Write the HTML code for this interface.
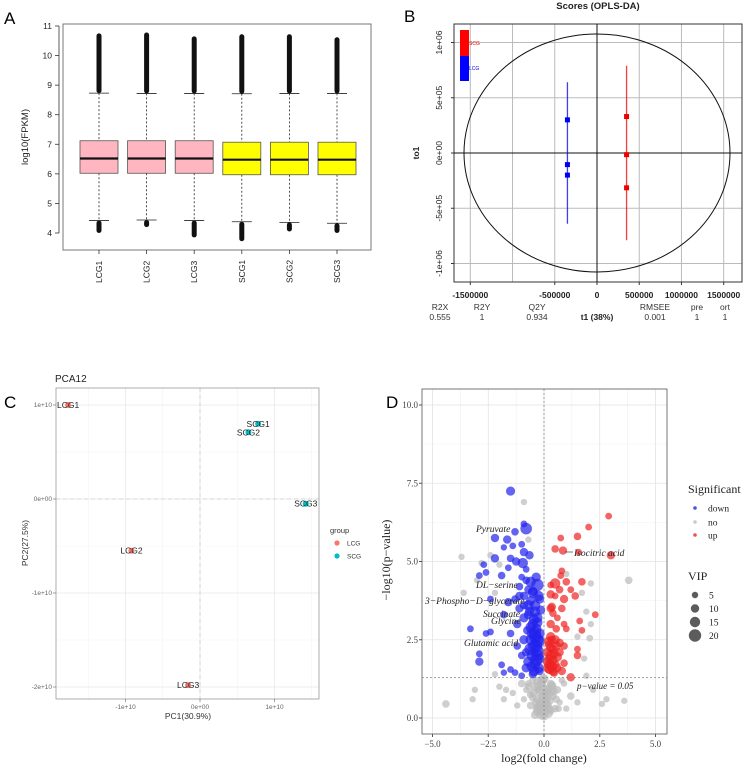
<!DOCTYPE html>
<html><head><meta charset="utf-8"><style>
html,body{margin:0;padding:0;background:#fff;}
svg{display:block;font-family:"Liberation Sans",sans-serif;}
</style></head><body>
<svg id="fig" width="750" height="767" viewBox="0 0 750 767">
<rect x="0" y="0" width="750" height="767" fill="#fff"/>
<text x="4" y="24" font-size="17">A</text>
<text x="404" y="22" font-size="17">B</text>
<text x="4" y="408" font-size="17">C</text>
<text x="386" y="408" font-size="17">D</text>
<g id="pa"></g>
<g id="pb"></g>
<g id="pc"></g>
<g id="pd"></g>
</svg>
<script>
// ---------- Panel A data ----------
const aSamples = ["LCG1","LCG2","LCG3","SCG1","SCG2","SCG3"];
const aQ1 = [6.02,6.02,6.02,5.97,5.97,5.97];
const aMed = [6.52,6.52,6.52,6.48,6.48,6.48];
const aQ3 = [7.12,7.12,7.12,7.07,7.07,7.07];
const aWhiskLo = [4.42,4.44,4.42,4.38,4.36,4.33];
const aWhiskHi = [8.73,8.72,8.72,8.71,8.72,8.72];
const aOutMax = [10.75,10.78,10.65,10.72,10.72,10.62];
const aOutMin = [4.0,4.2,3.85,3.72,4.05,4.0];
const aTicks = [4,5,6,7,8,9,10,11];
// ---------- Panel B data ----------
const bGroups = ["LCG","SCG"];
const bX = [-350000, 350000];
const bYL = [300000,-105000,-200000];
const bYS = [330000,-15000,-315000];
const bSpread = [640000, 790000];
const bXTicks = [-1500000,-500000,0,500000,1000000,1500000];
const bXGrid = [-1500000,-1000000,-500000,0,500000,1000000,1500000];
const bYTicks = [1000000,500000,0,-500000,-1000000];
const bYTickLabels = ["1e+06","5e+05","0e+00","-5e+05","-1e+06"];
// ---------- Panel C data ----------
const cNames = ["LCG1","LCG2","LCG3","SCG1","SCG2","SCG3"];
const cPC1 = [-1.77e10,-0.92e10,-0.16e10,0.78e10,0.65e10,1.42e10];
const cPC2 = [1.0e10,-0.55e10,-1.98e10,0.8e10,0.71e10,-0.05e10];
const cGroup = ["LCG","LCG","LCG","SCG","SCG","SCG"];
const cXTicks = [-1e10,0,1e10];
const cXTickLabels = ["-1e+10","0e+00","1e+10"];
const cYTicks = [1e10,0,-1e10,-2e10];
const cYTickLabels = ["1e+10","0e+00","-1e+10","-2e+10"];
// ---------- Panel D data ----------
const dDownFC = [-1.5,-0.9,-0.8,-1.3,-2.2,-1.65,-1.4,-1.0,-1.8,-0.9,-0.65,-2.2,-1.5,-1.25,-0.95,-2.7,-1.6,-0.8,-2.6,-1.9,-1.0,-2.9,-0.6,-0.3,-1.1,-0.7,-0.5,-0.9,-1.3,-1.6,-2.4,-0.2,-0.7,-1.1,-0.4,-1.8,-0.9,-0.3,-1.2,-0.6,-3.3,-0.4,-2.6,-1.5,-2.4,-0.9,-0.3,-1.2,-0.6,-0.3,-2.9,-2.9,-1.9,-1.5,-0.8,-0.4,-1.3,-1.0,-0.5,-1.8,-0.2,-0.7,-0.35,-0.5,-0.8,
 -0.45,-0.25,-0.55,-0.35,-0.2,-0.5,-0.3,-0.45,-0.25,-0.6,-0.4,-0.2,-0.35,-0.55,-0.3,-0.45,-0.7,-0.15,-0.4,-0.6,-0.25,-0.5,-0.35,-0.8,-1.0,-0.65,-0.9,-1.1,-0.75];
const dDownP = [7.25,6.2,6.05,5.95,5.75,5.7,5.5,5.55,5.45,5.3,5.2,5.1,5.1,5.0,4.95,4.9,4.8,4.75,4.65,4.55,4.5,4.55,4.35,4.25,4.2,4.1,4.0,3.9,3.8,3.7,3.8,3.8,3.6,3.5,3.4,3.3,3.2,3.2,3.0,2.9,2.85,2.7,2.7,2.7,2.75,2.5,2.5,2.3,2.2,2.0,2.05,1.8,1.7,1.55,1.6,1.7,1.45,1.35,1.4,1.45,1.5,1.8,2.3,3.0,4.4,
 1.5,1.6,1.65,1.85,1.9,2.0,2.15,2.3,2.45,2.5,2.6,2.7,2.85,2.7,3.05,3.15,3.3,3.45,3.6,3.75,3.9,4.05,4.5,2.1,2.0,3.4,3.6,3.9,2.8];
const dDownVIP = [12,6,18,8,10,10,6,6,5,10,10,10,8,10,15,6,6,6,6,8,6,6,15,20,8,10,15,10,8,10,6,12,15,10,15,8,12,15,10,15,6,20,6,8,6,12,20,8,20,20,6,10,6,6,12,15,6,6,10,5,10,15,20,15,8,
 15,15,15,20,15,20,20,20,20,15,20,15,15,15,15,15,12,12,15,12,15,12,12,10,8,12,10,10,10];
const dUpFC = [2.9,2.0,1.5,0.75,0.5,0.85,3.0,1.55,0.8,0.75,0.5,0.3,1.0,1.7,0.7,1.2,0.3,1.4,0.5,0.9,0.35,0.8,2.3,0.4,0.6,1.6,0.3,0.9,0.55,1.0,1.7,0.3,0.5,0.7,0.2,0.4,0.9,0.3,0.6,1.5,1.5,0.25,0.5,0.8,1.2,0.45,0.15,0.9,
 0.2,0.35,0.25,0.4,0.15,0.3,0.45,0.2,0.35,0.55,0.25,0.6,0.4,0.7,0.3];
const dUpP = [6.45,6.1,5.8,5.75,5.4,5.35,5.2,5.3,4.7,4.55,4.3,4.25,4.35,4.35,4.1,4.1,3.95,3.9,3.9,3.8,3.55,3.5,3.3,3.35,3.2,3.1,3.0,3.0,2.85,2.85,2.8,2.6,2.5,2.4,2.35,2.2,2.3,2.0,1.95,2.0,2.2,1.7,1.7,1.5,1.3,1.45,1.8,1.75,
 1.6,1.65,1.9,1.85,2.1,2.25,2.05,2.45,2.5,2.3,1.55,1.6,1.5,2.1,3.5];
const dUpVIP = [6,6,8,6,8,10,10,6,6,6,15,6,8,8,8,6,10,8,6,10,10,8,6,8,6,6,10,6,8,6,6,12,12,10,8,12,8,15,12,8,6,15,12,10,10,10,12,8,
 15,15,12,12,12,12,12,12,10,12,12,10,12,10,10];
const dNoFC = [-0.9,-0.7,-3.7,-2.8,-3.0,-3.6,-2.2,-2.0,-2.4,1.0,2.1,3.8,1.7,1.9,2.1,1.5,2.05,1.8,1.9,-2.2,-3.1,-3.2,-4.4,-1.7,-1.4,-1.0,-0.7,-0.5,-0.3,0,0.2,0.4,0.6,0.9,1.2,1.5,2.6,2.8,3.6,-0.1,0,-0.3,0.3,-0.6,0.5,-1.2,-0.9,0.1,-0.2,0.7,-2.0,-1.8,2.2,1.0,-0.4,0.1,-0.1,-0.5,0.3,-0.2,0.4,-0.8,0.8,0.0,-0.3,0.2,
 -0.15,0.05,-0.25,0.15,-0.35,0.25,-0.05,0.1,-0.2,0.2,-0.4,0.35,-0.1,0.0,-0.3,0.15,-0.5,0.45,-0.6,0.55,-0.15,0.05,-0.25,0.3,-0.7,0.65,-0.05,0.1];
const dNoP = [6.9,5.7,5.15,4.95,4.4,4.0,4.0,4.9,5.2,4.6,4.3,4.4,4.0,3.4,3.0,2.6,2.55,1.9,1.35,1.4,0.9,0.6,0.45,0.9,0.8,1.1,1.0,0.8,0.6,0.4,0.3,0.7,0.9,1.1,0.7,0.5,0.45,0.6,0.55,0.2,0.05,1.2,1.1,0.4,0.3,0.4,0.6,0.9,0.9,0.5,1.0,0.6,0.9,0.3,0.1,0.6,1.1,1.2,0.8,0.4,1.0,0.9,1.2,0.7,0.3,0.15,
 0.1,0.2,0.35,0.4,0.5,0.55,0.65,0.75,0.85,0.95,1.0,1.05,1.15,1.25,0.2,0.85,0.65,0.85,0.75,0.6,0.45,0.55,1.0,0.25,1.1,0.3,1.25,0.45];
const dNoVIP = [5,5,5,5,5,5,5,5,5,5,5,8,5,5,5,5,6,5,5,5,5,5,8,5,5,8,8,10,10,10,10,8,8,5,8,5,5,5,5,10,10,8,8,8,8,5,5,10,10,5,5,5,5,5,10,10,10,8,8,10,8,5,5,12,12,12,
 12,12,12,12,10,10,12,12,12,10,10,10,12,12,10,10,8,8,8,8,12,12,12,10,6,6,12,12];
const dLabels = ["Pyruvate","DL\u2212serine","3\u2212Phospho\u2212D\u2212glycerate","Succinate","Glycine","Glutamic acid","Isocitric acid"];
const dXTicks = [-5,-2.5,0,2.5,5];
const dXTickLabels = ["\u22125.0","\u22122.5","0.0","2.5","5.0"];
const dYTicks = [0,2.5,5,7.5,10];
const dYTickLabels = ["0.0","2.5","5.0","7.5","10.0"];
const dLegendVIP = [5,10,15,20];

const NS="http://www.w3.org/2000/svg";
function mk(parent,tag,attrs,text){const e=document.createElementNS(NS,tag);for(const k in attrs)e.setAttribute(k,attrs[k]);if(text!==undefined)e.textContent=text;parent.appendChild(e);return e;}

// ===== Panel A =====
(function(){
const g=document.getElementById('pa');
const L=63,R=371,T=24,B=250;
const ay=v=>26+(11-v)*(233-26)/7;
const ax=i=>99+i*47.6;
const box=mk(g,'rect',{x:L,y:T,width:R-L,height:B-T,fill:'none',stroke:'#777','stroke-width':1});


mk(g,'line',{x1:L-4,y1:ay(4),x2:L-4,y2:ay(11),stroke:'#333','stroke-width':0.8});
aTicks.forEach(t=>{
 mk(g,'line',{x1:L-8,y1:ay(t),x2:L-4,y2:ay(t),stroke:'#333','stroke-width':0.8});
 const tl=mk(g,'text',{x:L-11,y:ay(t)+3,'font-size':8.5,'text-anchor':'end',fill:'#222'},String(t));
 
 
});
const yl=mk(g,'text',{x:28,y:(T+B)/2,'font-size':9.5,'text-anchor':'middle',fill:'#222',transform:`rotate(-90 28 ${(T+B)/2})`},'log10(FPKM)');


aSamples.forEach((s,i)=>{
 const x=ax(i),w=38,col=i<3?'#ffb6c1':'#ffff00';
 mk(g,'line',{x1:x,y1:ay(aWhiskHi[i]),x2:x,y2:ay(aQ3[i]),stroke:'#222','stroke-dasharray':'2,2','stroke-width':0.8});
 mk(g,'line',{x1:x,y1:ay(aQ1[i]),x2:x,y2:ay(aWhiskLo[i]),stroke:'#222','stroke-dasharray':'2,2','stroke-width':0.8});
 mk(g,'line',{x1:x-10,y1:ay(aWhiskHi[i]),x2:x+10,y2:ay(aWhiskHi[i]),stroke:'#222','stroke-width':0.8});
 mk(g,'line',{x1:x-10,y1:ay(aWhiskLo[i]),x2:x+10,y2:ay(aWhiskLo[i]),stroke:'#222','stroke-width':0.8});
 const up=mk(g,'rect',{x:x-2.5,y:ay(aOutMax[i]),width:5,height:ay(aWhiskHi[i])-ay(aOutMax[i]),rx:2.5,fill:'#111'});
 
 
 const lo=mk(g,'rect',{x:x-2.5,y:ay(aWhiskLo[i]),width:5,height:ay(aOutMin[i])-ay(aWhiskLo[i]),rx:2.5,fill:'#111'});
 
 
 const b=mk(g,'rect',{x:x-w/2,y:ay(aQ3[i]),width:w,height:ay(aQ1[i])-ay(aQ3[i]),fill:col,stroke:'#555','stroke-width':0.8});
 
 
 mk(g,'line',{x1:x-w/2,y1:ay(aMed[i]),x2:x+w/2,y2:ay(aMed[i]),stroke:'#111','stroke-width':2.2});
 mk(g,'line',{x1:x,y1:B,x2:x,y2:B+4,stroke:'#333','stroke-width':0.8});
 const xl=mk(g,'text',{x:x+3,y:283,'font-size':8.5,fill:'#222',transform:`rotate(-90 ${x+3} 283)`},s);
 
 
});
})();

// ===== Panel B =====
(function(){
const g=document.getElementById('pb');
const L=454,R=742,T=24,B=282;
const bx=v=>597+v*(126.7/1500000);
const by=v=>153-v*(110.5/1000000);
const t=mk(g,'text',{x:598,y:9,'font-size':9.5,'font-weight':'bold','text-anchor':'middle',fill:'#222'},'Scores (OPLS-DA)');


bXGrid.forEach(v=>mk(g,'line',{x1:bx(v),y1:T,x2:bx(v),y2:B,stroke:'#bbb','stroke-width':1}));
bYTicks.forEach(v=>mk(g,'line',{x1:L,y1:by(v),x2:R,y2:by(v),stroke:'#bbb','stroke-width':1}));
mk(g,'rect',{x:L,y:T,width:R-L,height:B-T,fill:'none',stroke:'#333','stroke-width':1});
mk(g,'line',{x1:L,y1:by(0),x2:R,y2:by(0),stroke:'#111','stroke-width':1});
mk(g,'line',{x1:bx(0),y1:T,x2:bx(0),y2:B,stroke:'#111','stroke-width':1});
const el=mk(g,'ellipse',{cx:bx(0),cy:by(0),rx:133,ry:119,fill:'none',stroke:'#111','stroke-width':1});


bXTicks.forEach(v=>{
 mk(g,'line',{x1:bx(v),y1:B,x2:bx(v),y2:B+3,stroke:'#333'});
 const tl=mk(g,'text',{x:bx(v),y:298,'font-size':8.5,'font-weight':'bold','text-anchor':'middle',fill:'#222'},String(v));
 
 
});
bYTicks.forEach((v,i)=>{
 mk(g,'line',{x1:L-3,y1:by(v),x2:L,y2:by(v),stroke:'#333'});
 const tl=mk(g,'text',{x:442,y:by(v),'font-size':8.5,'text-anchor':'middle',fill:'#222',transform:`rotate(-90 442 ${by(v)})`},bYTickLabels[i]);
 
 
});
const yl=mk(g,'text',{x:419,y:153,'font-size':8.5,'font-weight':'bold','text-anchor':'middle',fill:'#222',transform:'rotate(-90 419 153)'},'to1');


const cols={LCG:'#0000ee',SCG:'#ee0000'};
bGroups.forEach((gname,gi)=>{
 const c=cols[gname];
 const ln=mk(g,'line',{x1:bx(bX[gi]),y1:by(bSpread[gi]),x2:bx(bX[gi]),y2:by(-bSpread[gi]),stroke:c,'stroke-width':1.3,opacity:0.75});
 
 
 const ys=gi===0?bYL:bYS;
 ys.forEach(v=>{
  const p=mk(g,'rect',{x:bx(bX[gi])-2.5,y:by(v)-2.5,width:5,height:5,fill:c});
  
  
 });
});
const lr=mk(g,'rect',{x:460,y:30,width:9,height:26,fill:'#ff0000'});


const lb=mk(g,'rect',{x:460,y:56,width:9,height:25,fill:'#0000ff'});


const t1=mk(g,'text',{x:469,y:45,'font-size':5,fill:'#e00'},'SCG');


const t2=mk(g,'text',{x:469,y:70,'font-size':5,fill:'#00e'},'LCG');


const h=[["R2X",440],["R2Y",482],["Q2Y",537],["RMSEE",655],["pre",697],["ort",725]];
const v=[["0.555",440],["1",482],["0.934",537],["0.001",655],["1",697],["1",725]];
h.forEach(([s,x])=>{const e=mk(g,'text',{x:x,y:310,'font-size':8.5,'text-anchor':'middle',fill:'#333'},s);});
v.forEach(([s,x])=>{const e=mk(g,'text',{x:x,y:320,'font-size':8.5,'text-anchor':'middle',fill:'#333'},s);});
const xt=mk(g,'text',{x:597,y:320,'font-size':8.5,'font-weight':'bold','text-anchor':'middle',fill:'#222'},'t1 (38%)');


})();

// ===== Panel C =====
(function(){
const g=document.getElementById('pc');
const L=56,R=319,T=388,B=699;
const cx=v=>200+v*(74.5/1e10);
const cy=v=>499-v*(94/1e10);
const tt=mk(g,'text',{x:55,y:382,'font-size':10,fill:'#222'},'PCA12');


[-1.5e10,-0.5e10,0.5e10,1.5e10].forEach(v=>{if(cx(v)>L&&cx(v)<R)mk(g,'line',{x1:cx(v),y1:T,x2:cx(v),y2:B,stroke:'#f2f2f2','stroke-width':0.6});});
[0.5e10,-0.5e10,-1.5e10].forEach(v=>mk(g,'line',{x1:L,y1:cy(v),x2:R,y2:cy(v),stroke:'#f2f2f2','stroke-width':0.6}));
cXTicks.forEach(v=>mk(g,'line',{x1:cx(v),y1:T,x2:cx(v),y2:B,stroke:'#e8e8e8','stroke-width':0.8}));
cYTicks.forEach(v=>mk(g,'line',{x1:L,y1:cy(v),x2:R,y2:cy(v),stroke:'#e8e8e8','stroke-width':0.8}));
mk(g,'line',{x1:cx(0),y1:T,x2:cx(0),y2:B,stroke:'#ccc','stroke-dasharray':'4,3','stroke-width':0.8});
mk(g,'line',{x1:L,y1:cy(0),x2:R,y2:cy(0),stroke:'#ccc','stroke-dasharray':'4,3','stroke-width':0.8});
mk(g,'rect',{x:L,y:T,width:R-L,height:B-T,fill:'none',stroke:'#999','stroke-width':0.8});
cXTicks.forEach((v,i)=>{
 mk(g,'line',{x1:cx(v),y1:B,x2:cx(v),y2:B+3,stroke:'#666','stroke-width':0.6});
 const e=mk(g,'text',{x:cx(v),y:709,'font-size':6.5,'text-anchor':'middle',fill:'#666'},cXTickLabels[i]);
 
 
});
cYTicks.forEach((v,i)=>{
 mk(g,'line',{x1:L-3,y1:cy(v),x2:L,y2:cy(v),stroke:'#666','stroke-width':0.6});
 const e=mk(g,'text',{x:L-4,y:cy(v)+2,'font-size':6.5,'text-anchor':'end',fill:'#666'},cYTickLabels[i]);
 
 
});
const xl=mk(g,'text',{x:188,y:719,'font-size':8.5,'text-anchor':'middle',fill:'#333'},'PC1(30.9%)');


const yl=mk(g,'text',{x:28,y:543,'font-size':8.5,'text-anchor':'middle',fill:'#333',transform:'rotate(-90 28 543)'},'PC2(27.5%)');


const gc={LCG:'#f8766d',SCG:'#00bfc4'};
cNames.forEach((n,i)=>{
 const p=mk(g,'circle',{cx:cx(cPC1[i]),cy:cy(cPC2[i]),r:3,fill:gc[cGroup[i]]});
 
 
 const t=mk(g,'text',{x:cx(cPC1[i]),y:cy(cPC2[i])+3,'font-size':8.5,'text-anchor':'middle',fill:'#222'},n);
 
 
});
const lt=mk(g,'text',{x:330,y:533,'font-size':7.5,fill:'#333'},'group');


[["LCG",543],["SCG",556]].forEach(([k,y])=>{
 mk(g,'circle',{cx:337,cy:y,r:2.6,fill:gc[k]});
 const e=mk(g,'text',{x:347,y:y+2.5,'font-size':6.5,fill:'#333'},k);
 
 
});
})();

// ===== Panel D =====
(function(){
const g=document.getElementById('pd');
const L=422,R=667,T=389,B=734;
const dx=v=>544+v*22.3;
const dy=v=>718-v*31.3;
const rr=v=>2.2+v*0.2;
[-3.75,-1.25,1.25,3.75].forEach(v=>mk(g,'line',{x1:dx(v),y1:T,x2:dx(v),y2:B,stroke:'#f0f0f0','stroke-width':0.6}));
[1.25,3.75,6.25,8.75].forEach(v=>mk(g,'line',{x1:L,y1:dy(v),x2:R,y2:dy(v),stroke:'#f0f0f0','stroke-width':0.6}));
dXTicks.forEach(v=>mk(g,'line',{x1:dx(v),y1:T,x2:dx(v),y2:B,stroke:'#e3e3e3','stroke-width':0.8}));
dYTicks.forEach(v=>mk(g,'line',{x1:L,y1:dy(v),x2:R,y2:dy(v),stroke:'#e3e3e3','stroke-width':0.8}));
mk(g,'rect',{x:L,y:T,width:R-L,height:B-T,fill:'none',stroke:'#555','stroke-width':0.8});
function pts(fc,p,vip,col,name){
 fc.forEach((v,i)=>{
  const c=mk(g,'circle',{cx:dx(v),cy:dy(p[i]),r:rr(vip[i]),fill:col,'fill-opacity':0.7});
  
  
 });
}
pts(dNoFC,dNoP,dNoVIP,'#bbbbbb','point-no');
pts(dDownFC,dDownP,dDownVIP,'#2222ee','point-down');
pts(dUpFC,dUpP,dUpVIP,'#ee2222','point-up');
mk(g,'line',{x1:dx(0),y1:T,x2:dx(0),y2:B,stroke:'#777','stroke-dasharray':'2,2','stroke-width':0.7});
mk(g,'line',{x1:L,y1:dy(1.3),x2:R,y2:dy(1.3),stroke:'#777','stroke-dasharray':'2,2','stroke-width':0.7});
const pv=mk(g,'text',{x:577,y:689,'font-size':9,'font-style':'italic','font-family':'Liberation Serif, serif',fill:'#222'},'p\u2212value = 0.05');


const lp=[[476,532],[476,588],[425,604],[483,617],[491,624],[464,646],[574,556]];
dLabels.forEach((s,i)=>{
 const e=mk(g,'text',{x:lp[i][0],y:lp[i][1],'font-size':9.5,'font-style':'italic','font-family':'Liberation Serif, serif',fill:'#222'},s);
 
 
});
mk(g,'line',{x1:565,y1:552,x2:573,y2:552,stroke:'#222','stroke-width':0.6});
dXTicks.forEach((v,i)=>{
 mk(g,'line',{x1:dx(v),y1:B,x2:dx(v),y2:B+3,stroke:'#555'});
 const e=mk(g,'text',{x:dx(v),y:747,'font-size':9,'text-anchor':'middle','font-family':'Liberation Serif, serif',fill:'#444'},dXTickLabels[i]);
 
 
});
dYTicks.forEach((v,i)=>{
 mk(g,'line',{x1:L-3,y1:dy(v),x2:L,y2:dy(v),stroke:'#555'});
 const e=mk(g,'text',{x:L-4,y:dy(v)+3,'font-size':9,'text-anchor':'end','font-family':'Liberation Serif, serif',fill:'#444'},dYTickLabels[i]);
 
 
});
const xl=mk(g,'text',{x:544,y:762,'font-size':12,'text-anchor':'middle','font-family':'Liberation Serif, serif',fill:'#222'},'log2(fold change)');


const yl=mk(g,'text',{x:390,y:560,'font-size':12,'text-anchor':'middle','font-family':'Liberation Serif, serif',fill:'#222',transform:'rotate(-90 390 560)'},'\u2212log10(p\u2212value)');


const st=mk(g,'text',{x:688,y:493,'font-size':12,'font-family':'Liberation Serif, serif',fill:'#222'},'Significant');


[["down",508,'#2222ee'],["no",522,'#bbbbbb'],["up",535,'#ee2222']].forEach(([k,y,c])=>{
 mk(g,'circle',{cx:695,cy:y,r:1.8,fill:c,'fill-opacity':0.8});
 const e=mk(g,'text',{x:708,y:y+3.5,'font-size':9.5,'font-family':'Liberation Serif, serif',fill:'#222'},k);
 
 
});
const vt=mk(g,'text',{x:688,y:580,'font-size':12,'font-family':'Liberation Serif, serif',fill:'#222'},'VIP');


dLegendVIP.forEach((v,i)=>{
 const y=595+i*13.5;
 mk(g,'circle',{cx:695,cy:y,r:rr(v),fill:'#333','fill-opacity':0.8});
 const e=mk(g,'text',{x:709,y:y+3.5,'font-size':9.5,'font-family':'Liberation Serif, serif',fill:'#222'},String(v));
 
 
});
})();
</script>
</body></html>
